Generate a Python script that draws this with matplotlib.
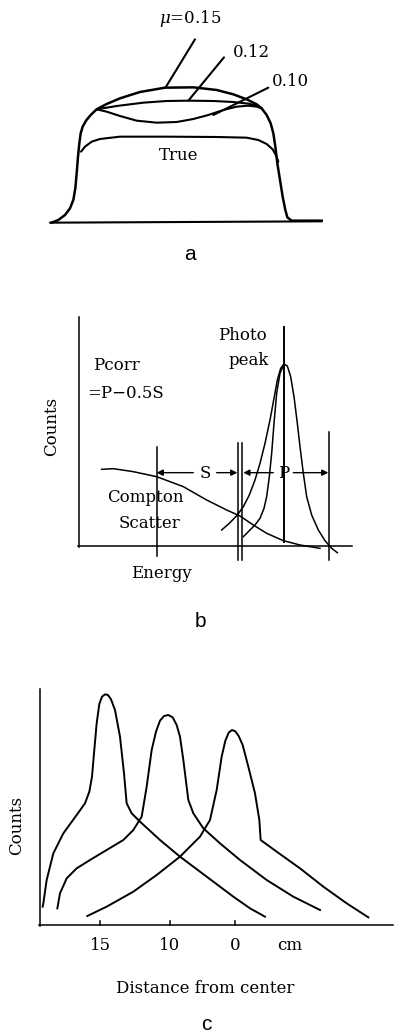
import matplotlib
matplotlib.use("Agg")
import matplotlib.pyplot as plt

plt.rcParams['font.family'] = ['DejaVu Serif']
plt.rcParams['mathtext.fontset'] = 'dejavuserif'

# ---- panel a: profiles for different attenuation coefficients (drawing units)
base_a_x = [150, 965]
base_a_y = [668, 664]
outer_x = [155, 175, 195, 210, 220, 226, 230, 234, 238, 242, 248, 258, 272, 290, 320, 360, 420,
           495, 580, 650, 700, 740, 770, 785, 800, 812, 820, 826, 832, 840, 848, 856, 862, 875, 965]
outer_y = [668, 660, 645, 625, 600, 565, 520, 470, 430, 400, 380, 362, 345, 328, 312, 295, 276,
           263, 262, 270, 283, 298, 313, 325, 345, 370, 400, 440, 490, 540, 590, 630, 652, 662, 662]
true_x = [243, 255, 275, 300, 360, 500, 650, 740, 775, 800, 818, 830, 835]
true_y = [455, 440, 425, 417, 410, 410, 411, 413, 420, 432, 448, 470, 485]
mu12_x = [290, 350, 430, 500, 565, 640, 700, 745, 775, 785]
mu12_y = [328, 318, 308, 303, 302, 303, 306, 311, 318, 325]
mu10_x = [290, 320, 360, 410, 470, 530, 580, 625, 670, 710, 745, 770, 785]
mu10_y = [328, 335, 348, 362, 368, 366, 357, 345, 330, 320, 317, 320, 325]
lead_a = {'μ=0.15': ([585, 497], [118, 262]),
          '0.12': ([672, 565], [172, 302]),
          '0.10': ([805, 640], [263, 345])}

# ---- panel b: energy spectrum
compton_x = [305, 340, 400, 470, 550, 620, 680, 720, 760, 800, 850, 900, 960]
compton_y = [568, 566, 575, 590, 620, 660, 690, 708, 735, 760, 782, 795, 805]
wide_x = [665, 690, 712, 730, 748, 765, 780, 795, 810, 822, 832, 842, 852]
wide_y = [750, 728, 705, 680, 645, 600, 550, 490, 420, 355, 300, 265, 252]
narrow_x = [730, 748, 765, 780, 792, 800, 808, 815, 822, 830, 840, 852]
narrow_y = [770, 752, 735, 715, 685, 650, 590, 520, 430, 340, 280, 252]
tail_x = [852, 862, 872, 882, 892, 900, 910, 920, 935, 955, 975, 995, 1012]
tail_y = [252, 258, 290, 350, 430, 500, 580, 650, 705, 750, 782, 805, 818]
vlines_b = [(470, 500, 827), (715, 490, 840), (727, 490, 840), (852, 140, 785), (988, 455, 840)]
arrows_b = [(580, 470), (650, 712), (820, 730), (880, 985)]
arrow_y = 578

# ---- panel c: profiles at distances from center
c15_x = [128, 130, 140, 160, 190, 230, 255, 268, 276, 282, 290, 298, 306, 315, 324, 333, 345, 360,
         372, 380, 395, 420, 480, 540, 620, 700, 750, 795]
c15_y = [800, 790, 720, 640, 580, 525, 490, 455, 410, 340, 250, 192, 170, 163, 165, 178, 210, 290,
         400, 490, 520, 545, 600, 650, 710, 770, 805, 830]
c10_x = [172, 180, 200, 230, 270, 320, 370, 400, 425, 440, 455, 468, 480, 492, 505, 518, 530, 540,
         550, 565, 580, 610, 660, 720, 800, 880, 960]
c10_y = [805, 760, 715, 685, 660, 630, 600, 570, 530, 440, 330, 275, 242, 228, 225, 232, 255, 290,
         360, 480, 520, 565, 610, 660, 720, 770, 810]
c0_x = [262, 320, 400, 470, 540, 600, 630, 650, 665, 676, 686, 696, 706, 716, 728, 745, 765, 778,
        782, 830, 900, 970, 1040, 1105]
c0_y = [828, 800, 755, 705, 650, 590, 540, 450, 350, 302, 278, 270, 274, 288, 315, 380, 460, 540,
        600, 635, 685, 740, 790, 832]
ticks_c = [300, 510, 705]
tick_labels_c = ['15', '10', '0']

fig = plt.figure(figsize=(3.94, 10.35), dpi=100)
H = 1035.0
ax_a = fig.add_axes([0, 1 - 280 / H, 1, 280 / H])
ax_b = fig.add_axes([0, (H - 640) / H, 1, 360 / H])
ax_c = fig.add_axes([0, 0, 1, 395 / H])
for ax, h in ((ax_a, 840), (ax_b, 1080), (ax_c, 1185)):
    ax.set_xlim(0, 1182)
    ax.set_ylim(h, 0)
    ax.axis('off')

k = dict(color='black', lw=1.5, solid_capstyle='round', solid_joinstyle='round')
fs = 12

# panel a
ax_a.plot(base_a_x, base_a_y, **k)
ax_a.plot(outer_x, outer_y, color='black', lw=1.8, solid_joinstyle='round')
ax_a.plot(true_x, true_y, **k)
ax_a.plot(mu12_x, mu12_y, **k)
ax_a.plot(mu10_x, mu10_y, **k)
for xs, ys in lead_a.values():
    ax_a.plot(xs, ys, **k)
ax_a.text(570, 55, r'$\mu$=0.15', ha='center', va='center', fontsize=fs)
ax_a.text(700, 157, '0.12', ha='left', va='center', fontsize=fs)
ax_a.text(815, 245, '0.10', ha='left', va='center', fontsize=fs)
ax_a.text(535, 468, 'True', ha='center', va='center', fontsize=fs)
ax_a.text(570, 762, 'a', ha='center', va='center', fontsize=15, family='Liberation Sans')

# panel b
kb = dict(color='black', lw=1.1, solid_joinstyle='round')
ax_b.plot([237, 237], [110, 800], **kb)
ax_b.plot([235, 1055], [797, 797], **kb)
for x, y0, y1 in vlines_b:
    ax_b.plot([x, x], [y0, y1], color='black', lw=1.4 if x == 852 else 1.1)
ax_b.plot(compton_x, compton_y, **kb)
ax_b.plot(wide_x, wide_y, **kb)
ax_b.plot(narrow_x, narrow_y, **kb)
ax_b.plot(tail_x, tail_y, **kb)
for x0, x1 in arrows_b:
    ax_b.annotate('', xy=(x1, arrow_y), xytext=(x0, arrow_y),
                  arrowprops=dict(arrowstyle='-|>', color='black', lw=1.0, mutation_scale=9,
                                  shrinkA=0, shrinkB=0))
ax_b.text(615, 582, 'S', ha='center', va='center', fontsize=fs)
ax_b.text(850, 582, 'P', ha='center', va='center', fontsize=fs)
ax_b.text(728, 165, 'Photo', ha='center', va='center', fontsize=fs)
ax_b.text(745, 240, 'peak', ha='center', va='center', fontsize=fs)
ax_b.text(280, 255, 'Pcorr', ha='left', va='center', fontsize=fs)
ax_b.text(262, 340, '=P\u22120.5S', ha='left', va='center', fontsize=fs)
ax_b.text(155, 440, 'Counts', ha='center', va='center', rotation=90, fontsize=fs)
ax_b.text(435, 652, 'Compton', ha='center', va='center', fontsize=fs)
ax_b.text(450, 730, 'Scatter', ha='center', va='center', fontsize=fs)
ax_b.text(485, 880, 'Energy', ha='center', va='center', fontsize=fs)
ax_b.text(600, 1025, 'b', ha='center', va='center', fontsize=15, family='Liberation Sans')

# panel c
ax_c.plot([120, 120], [148, 857], **kb)
ax_c.plot([118, 1180], [855, 855], **kb)
for x, lab in zip(ticks_c, tick_labels_c):
    ax_c.plot([x, x], [843, 855], **kb)
    ax_c.text(x, 915, lab, ha='center', va='center', fontsize=fs)
ax_c.text(870, 915, 'cm', ha='center', va='center', fontsize=fs)
kc = dict(color='black', lw=1.4, solid_joinstyle='round')
ax_c.plot(c15_x, c15_y, **kc)
ax_c.plot(c10_x, c10_y, **kc)
ax_c.plot(c0_x, c0_y, **kc)
ax_c.text(50, 555, 'Counts', ha='center', va='center', rotation=90, fontsize=fs)
ax_c.text(615, 1045, 'Distance from center', ha='center', va='center', fontsize=fs)
ax_c.text(620, 1155, 'c', ha='center', va='center', fontsize=15, family='Liberation Sans')

fig.savefig('out.png', dpi=100)
